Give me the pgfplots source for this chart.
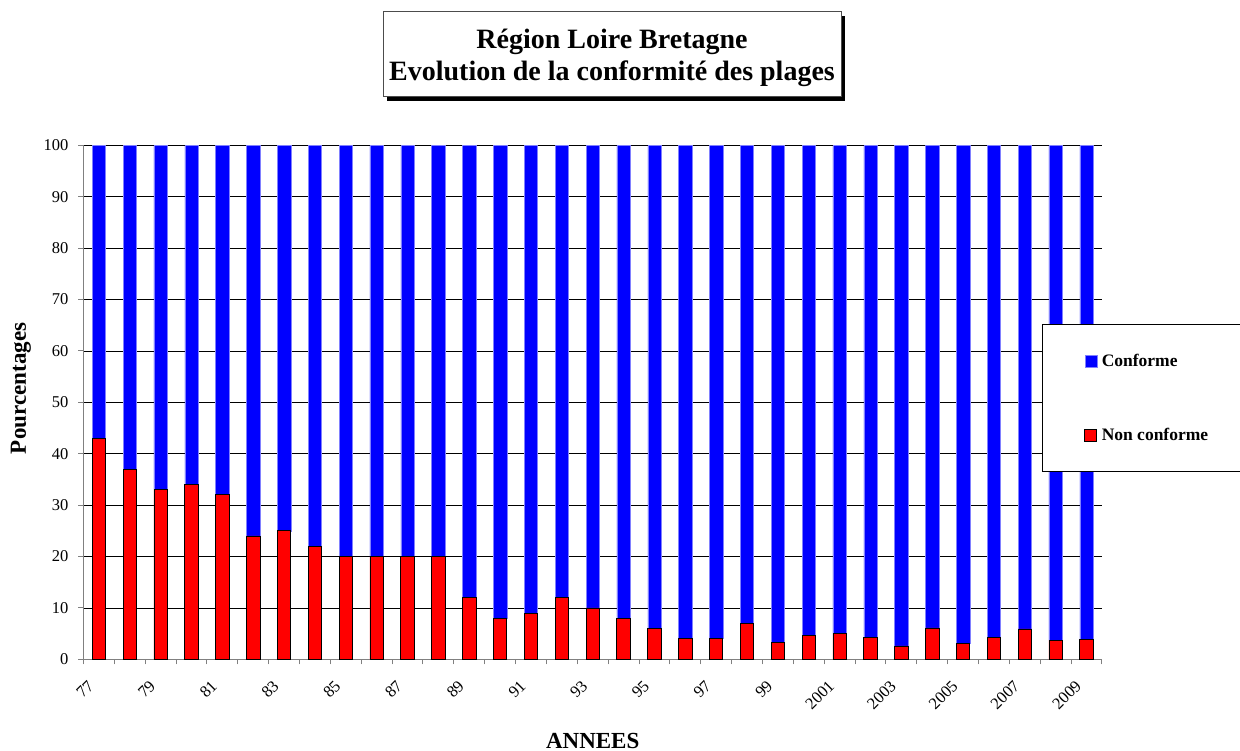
\documentclass[border=0pt]{standalone}
\usepackage{pgfplots}
\pgfplotsset{compat=1.18}
\usepackage{pgfplotstable}
\usepackage{fontspec}
\setmainfont{Liberation Serif}

% pourcentages de plages non conformes / conformes, 1977-2009
\pgfplotstableread{
idx nc    c
0   43    57
1   37    63
2   33    67
3   34    66
4   32    68
5   24    76
6   25    75
7   22    78
8   20    80
9   20    80
10  20    80
11  20    80
12  12    88
13  8     92
14  9     91
15  12    88
16  10    90
17  8     92
18  6     94
19  4     96
20  4     96
21  7     93
22  3.3   96.7
23  4.7   95.3
24  5.0   95.0
25  4.2   95.8
26  2.6   97.4
27  6.1   93.9
28  3.1   96.9
29  4.2   95.8
30  5.9   94.1
31  3.7   96.3
32  3.8   96.2
}\datatable

\begin{document}
\begin{tikzpicture}
\useasboundingbox (0pt,0pt) rectangle (1240pt,-751pt);

% titre encadre avec ombre
\fill[black] (387pt,-16pt) rectangle (845pt,-101pt);
\filldraw[draw=gray!60!black, line width=1pt, fill=white] (383pt,-12pt) rectangle (841pt,-97pt);
\node[align=center, inner sep=0pt,
      font=\bfseries\fontsize{28}{32}\selectfont] at (612pt,-57.5pt)
      {Région Loire Bretagne\\Evolution de la conformité des plages};

\begin{axis}[
    at={(83.5pt,-659.3pt)}, anchor=south west,
    scale only axis,
    width=1018.5pt, height=514pt,
    ybar stacked,
    bar width=13.4pt,
    xmin=-0.5, xmax=32.5,
    ymin=0, ymax=100,
    ytick={0,10,...,100},
    xtick={0,2,...,32},
    xticklabels={77,79,81,83,85,87,89,91,93,95,97,99,2001,2003,2005,2007,2009},
    minor xtick={-0.5,0.5,...,32.5},
    axis x line*=bottom, axis y line*=left,
    axis line style={gray, line width=1pt},
    tick align=outside,
    major tick length=5pt, minor tick length=5pt,
    major x tick style={draw=none},
    minor x tick style={gray, line width=1pt},
    major y tick style={gray, line width=1pt},
    ymajorgrids=true,
    major grid style={black, line width=0.8pt},
    /pgf/number format/assume math mode=true,
    yticklabel style={font=\fontsize{16.5}{18}\selectfont, xshift=-6.5pt},
    xticklabel style={xshift=-8pt, yshift=-19pt, rotate=45, anchor=east, inner sep=0pt,
                      font=\fontsize{16.5}{18}\selectfont},
    xlabel={ANNEES},
    xlabel style={font=\bfseries\fontsize{23}{26}\selectfont,
                  at={(axis description cs:0.5,0)}, anchor=base, yshift=-89pt},
    ylabel={Pourcentages},
    ylabel style={font=\bfseries\fontsize{23}{26}\selectfont,
                  at={(axis description cs:-0.0565,0.527)}, anchor=base},
    reverse legend,
    legend image code/.code={\draw[#1] (0pt,-6pt) rectangle (12pt,6pt);
                             \path[draw=none, fill=none] (0pt,0pt) (15pt,0pt);},
    legend cell align=left,
    legend style={at={(axis description cs:0.941,0.652)}, anchor=north west,
                  draw=black, line width=1pt, fill=white,
                  font=\bfseries\fontsize{17.5}{20}\selectfont,
                  inner xsep=42pt, inner ysep=27.5pt, row sep=56pt},
]
\addplot[fill=red, draw=black, line width=0.8pt] table[x=idx, y=nc] {\datatable};
\addplot[fill=blue, draw=blue!50, line width=0.5pt] table[x=idx, y=c] {\datatable};
\legend{Non conforme, Conforme}
\end{axis}
\end{tikzpicture}
\end{document}
